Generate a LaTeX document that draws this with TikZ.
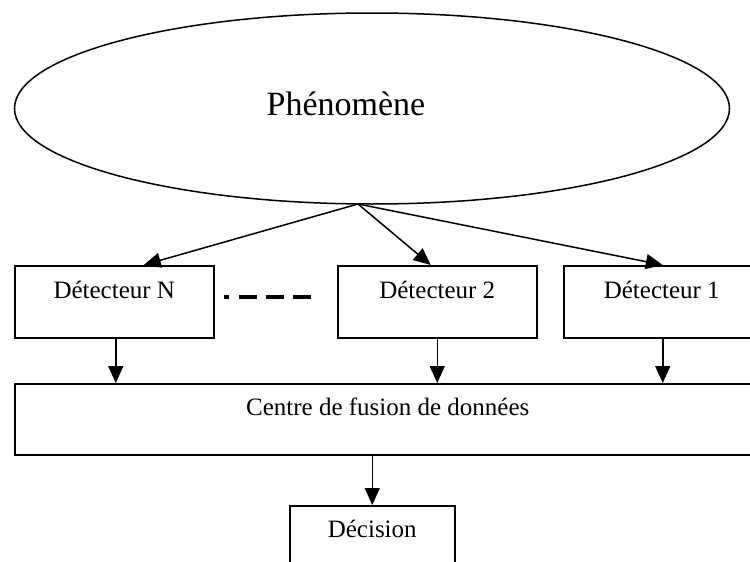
\documentclass[tikz,border=0pt]{standalone}
\usepackage{fontspec}
\setmainfont{Liberation Serif}
\usetikzlibrary{arrows.meta,shapes.geometric}

\begin{document}
\begin{tikzpicture}[x=1pt,y=-1pt,
  line width=1.5pt,
  boxtext/.style={font=\fontsize{25}{30}\selectfont},
  unit/.style={draw, rectangle, boxtext, inner sep=0pt, anchor=north west,
    text height=33pt, text depth=39pt},
  arr/.style={-{Triangle[length=17pt,width=15pt]}},
  dots/.style={line width=3.5pt,
    dash pattern=on 5pt off 10pt on 18pt off 9pt on 18pt off 9pt on 18pt}
]
  \useasboundingbox (0,0) rectangle (750,562);
  \clip (0,0) rectangle (750,562);

  % observed phenomenon
  \node[draw, ellipse, inner sep=0pt, minimum width=715pt, minimum height=191pt]
    (phen) at (372,108.5) {};
  \node[font=\fontsize{34}{40}\selectfont, anchor=base, inner sep=0pt]
    (phentxt) at (346,115) {Phénomène};
  \coordinate (apex) at (358,204);

  % sensors
  \node[unit, minimum width=199pt] (dN) at (14,265) {Détecteur N};
  \node[unit, minimum width=199pt] (d2) at (337,265) {Détecteur 2};
  \node[unit, minimum width=196pt] (d1) at (563,265) {Détecteur 1};
  \coordinate (gapL) at (224,297);
  \coordinate (gapR) at (313,297);
  \draw[dots] (gapL) -- (gapR);

  % fusion centre and decision
  \node[unit, minimum width=746pt, text height=32pt, text depth=39pt]
    (fusion) at (14,383) {Centre de fusion de données};
  \node[unit, minimum width=165pt, text height=32pt, text depth=40pt]
    (dec) at (289,505) {Décision};

  % connectors
  \draw[arr] (apex) -- ([xshift=29.5pt]dN.north);
  \draw[arr] (apex) -- ([xshift=-6.5pt]d2.north);
  \draw[arr] (apex) -- ([xshift=1pt]d1.north);
  \draw[arr] ([xshift=1.5pt]dN.south) -- ([xshift=1.5pt]dN.south |- fusion.north);
  \draw[arr] (d2.south) -- (d2.south |- fusion.north);
  \draw[arr] ([xshift=1pt]d1.south) -- ([xshift=1pt]d1.south |- fusion.north);
  \draw[arr] (dec.north |- fusion.south) -- (dec.north);
\end{tikzpicture}
\end{document}
